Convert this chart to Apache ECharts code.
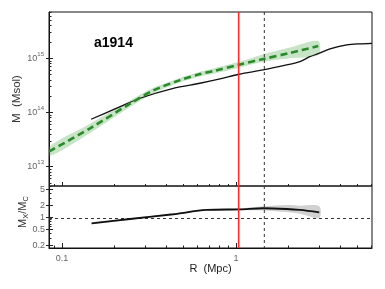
<!DOCTYPE html>
<html><head><meta charset="utf-8">
<script src="https://cdn.jsdelivr.net/npm/echarts@6/dist/echarts.min.js"></script>
<style>html,body{margin:0;padding:0;background:#fff}#c{width:385px;height:289px}</style>
</head><body><div id="c"></div>
<script>
// ---- axis ticks / labels ----
const xMajor = [0.1, 1];
const xMajorLabels = ['0.1', '1'];
const xMinor = [0.09, 0.2, 0.3, 0.4, 0.5, 0.6, 0.7, 0.8, 0.9, 2, 3, 4, 5, 6];
const yTopMajor = [1e13, 1e14, 1e15];
const yTopExp = ['13', '14', '15'];
const yTopMinor = [5e12, 6e12, 7e12, 8e12, 9e12, 2e13, 3e13, 4e13, 5e13, 6e13, 7e13, 8e13, 9e13,
  2e14, 3e14, 4e14, 5e14, 6e14, 7e14, 8e14, 9e14, 2e15, 3e15, 4e15, 5e15, 6e15, 7e15];
const yRatioMajor = [0.2, 0.5, 1, 2, 5];
const yRatioLabels = ['0.2', '0.5', '1', '2', '5'];
const yRatioMinor = [0.3, 0.4, 0.6, 0.7, 0.8, 0.9, 3, 4, 6];

// ---- data: X-ray mass profile (black) ----
const rX = [0.147, 0.20, 0.281, 0.436, 0.621, 0.809, 1.04, 1.435, 1.956, 2.33, 2.66, 3.0, 3.47, 4.33, 5.15, 6.05];
const mX = [7.5e13, 1.15e14, 1.83e14, 2.79e14, 3.46e14, 4.15e14, 5.07e14, 6.08e14, 7.52e14, 8.65e14, 1.07e15, 1.23e15, 1.49e15, 1.76e15, 1.85e15, 1.89e15];
const rXBand = [2.66, 3.0, 3.47, 4.33, 5.15, 6.05];
const mXLow = [1.05e15, 1.20e15, 1.45e15, 1.71e15, 1.80e15, 1.84e15];
const mXHigh = [1.09e15, 1.26e15, 1.53e15, 1.81e15, 1.90e15, 1.94e15];

// ---- data: lensing mass profile (green dashed) ----
const rC = [0.0842, 0.145, 0.246, 0.335, 0.477, 0.621, 0.741, 1.054, 1.435, 2.04, 2.97];
const mC = [1.9e13, 5.1e13, 1.45e14, 2.55e14, 3.95e14, 5.1e14, 5.8e14, 7.7e14, 9.7e14, 1.25e15, 1.68e15];
const mCLow = [1.55e13, 4.2e13, 1.26e14, 2.26e14, 3.6e14, 4.62e14, 5.19e14, 6.76e14, 8.65e14, 1.0e15, 1.15e15];
const mCHigh = [2.33e13, 6.2e13, 1.66e14, 2.85e14, 4.34e14, 5.62e14, 6.46e14, 8.7e14, 1.19e15, 1.58e15, 2.08e15];

// ---- data: ratio ----
const rRatio = [0.148, 0.246, 0.436, 0.679, 1.054, 1.435, 1.957, 2.33, 3.01];
const ratio = [0.724, 0.928, 1.22, 1.56, 1.62, 1.72, 1.65, 1.56, 1.36];
const ratioLow = [0.69, 0.89, 1.17, 1.50, 1.54, 1.52, 1.38, 1.25, 0.98];
const ratioHigh = [0.76, 0.97, 1.27, 1.62, 1.70, 1.92, 2.08, 2.0, 1.93];

// ---- reference lines ----
const rRed = 1.036;
const rDashed = 1.455;
const ratioRef = 1;

const X_MIN = 0.0842, X_MAX = 6.05;
const YT_MIN = 4.4e12, YT_MAX = 7.14e15;
const YR_MIN = 0.1747, YR_MAX = 6.2;

const FONT = 'Liberation Sans';
const RED = '#ff2a2a';
const chart = echarts.init(document.getElementById('c'), null, {renderer: 'canvas'});

function band(xs, lo, hi, color, xi, yi) {
  return {
    type: 'custom', xAxisIndex: xi, yAxisIndex: yi, silent: true, z: 1, clip: true,
    data: xs.map((x, i) => [x, lo[i], hi[i]]),
    encode: {x: 0, y: [1, 2]},
    renderItem(params, api) {
      if (params.dataIndex !== 0) return;
      const pts = [];
      for (let i = 0; i < xs.length; i++) pts.push(api.coord([xs[i], hi[i]]));
      for (let i = xs.length - 1; i >= 0; i--) pts.push(api.coord([xs[i], lo[i]]));
      return {type: 'polygon', shape: {points: pts, smooth: 0.3}, style: {fill: color}};
    }
  };
}

// reference line: vertical (at x value) or horizontal (at y value) spanning the grid
function refLine(xi, yi, xVal, yVal, refY, refX, color, dash, width, z) {
  return {
    type: 'custom', xAxisIndex: xi, yAxisIndex: yi, silent: true, z: z,
    data: [[xVal != null ? xVal : refX, yVal != null ? yVal : refY]],
    encode: {x: 0, y: 1},
    renderItem(params, api) {
      const cs = params.coordSys;
      const p = api.coord([xVal != null ? xVal : refX, yVal != null ? yVal : refY]);
      let shape;
      if (xVal != null) {
        shape = {x1: p[0], y1: cs.y, x2: p[0], y2: cs.y + cs.height};
      } else {
        const y = Math.round(p[1]) + 0.5;
        shape = {x1: cs.x, y1: y, x2: cs.x + cs.width, y2: y};
      }
      const style = {stroke: color, lineWidth: width};
      if (dash) style.lineDash = dash;
      return {type: 'line', shape: shape, style: style};
    }
  };
}

function tickAxis(gi, vals, len, inside, pos, min, max) {
  return {
    type: 'log', gridIndex: gi, min: min, max: max, position: pos,
    axisLine: {show: false}, splitLine: {show: false}, minorTick: {show: false},
    axisLabel: {show: false},
    axisTick: {show: true, inside: inside, length: len, customValues: vals, lineStyle: {color: '#222', width: 1}}
  };
}

const option = {
  animation: false,
  grid: [
    {left: 49, top: 12, width: 323, height: 174, show: true, borderColor: '#111', borderWidth: 1, backgroundColor: 'transparent'},
    {left: 49, top: 186, width: 323, height: 62, show: true, borderColor: '#111', borderWidth: 1, backgroundColor: 'transparent'}
  ],
  xAxis: [
    tickAxis(0, xMajor, 4, true, 'bottom', X_MIN, X_MAX),
    tickAxis(0, xMinor, 2, true, 'bottom', X_MIN, X_MAX),
    {
      type: 'log', gridIndex: 1, min: X_MIN, max: X_MAX, position: 'bottom',
      axisLine: {show: true, lineStyle: {color: '#111'}}, splitLine: {show: false},
      axisTick: {show: true, inside: true, length: 5, customValues: xMajor, lineStyle: {color: '#222'}},
      axisLabel: {show: true, customValues: xMajor, margin: 6, color: '#666', fontSize: 9, fontFamily: FONT,
        formatter: v => { let k = 0; xMajor.forEach((t, i) => { if (Math.abs(Math.log10(t) - Math.log10(v)) < 0.01) k = i; }); return xMajorLabels[k]; }}
    },
    tickAxis(1, xMinor, 2.5, true, 'bottom', X_MIN, X_MAX)
  ],
  yAxis: [
    {
      type: 'log', gridIndex: 0, min: YT_MIN, max: YT_MAX,
      axisLine: {show: true, lineStyle: {color: '#111'}}, splitLine: {show: false},
      axisTick: {show: true, inside: false, length: 3, customValues: yTopMajor, lineStyle: {color: '#222'}},
      axisLabel: {show: true, customValues: yTopMajor, margin: 5, color: '#666', fontFamily: FONT,
        formatter: v => { let k = 0; yTopMajor.forEach((t, i) => { if (Math.abs(Math.log10(t) - Math.log10(v)) < 0.01) k = i; }); return '{b|10}{s|' + yTopExp[k] + '}'; },
        rich: {b: {fontSize: 9, lineHeight: 14, color: '#666', fontFamily: FONT}, s: {fontSize: 6, verticalAlign: 'top', color: '#666', fontFamily: FONT}}}
    },
    tickAxis(0, yTopMajor, 4, true, 'left', YT_MIN, YT_MAX),
    tickAxis(0, yTopMinor, 2.5, true, 'left', YT_MIN, YT_MAX),
    {
      type: 'log', gridIndex: 1, min: YR_MIN, max: YR_MAX,
      axisLine: {show: true, lineStyle: {color: '#111'}}, splitLine: {show: false},
      axisTick: {show: true, inside: false, length: 3, customValues: yRatioMajor, lineStyle: {color: '#222'}},
      axisLabel: {show: true, customValues: yRatioMajor, margin: 4, color: '#666', fontSize: 9, fontFamily: FONT,
        formatter: v => { let k = 0; yRatioMajor.forEach((t, i) => { if (Math.abs(Math.log10(t) - Math.log10(v)) < 0.01) k = i; }); return yRatioLabels[k]; }}
    },
    tickAxis(1, yRatioMajor, 4, true, 'left', YR_MIN, YR_MAX),
    tickAxis(1, yRatioMinor, 2.5, true, 'left', YR_MIN, YR_MAX)
  ],
  series: [
    band(rC, mCLow, mCHigh, 'rgba(70,165,70,0.30)', 0, 0),
    band(rXBand, mXLow, mXHigh, 'rgba(120,120,120,0.25)', 0, 0),
    refLine(0, 0, rDashed, null, 1e14, null, '#333', [3, 3], 1, 2),
    {
      type: 'line', xAxisIndex: 0, yAxisIndex: 0, data: rX.map((r, i) => [r, mX[i]]),
      showSymbol: false, smooth: 0.3, lineStyle: {color: '#111', width: 1.3}, z: 3
    },
    {
      type: 'line', xAxisIndex: 0, yAxisIndex: 0, data: rC.map((r, i) => [r, mC[i]]),
      showSymbol: false, smooth: 0.3, lineStyle: {color: '#2a8a2a', width: 2.6, type: [7, 4]}, z: 4
    },
    refLine(0, 0, rRed, null, 1e14, null, RED, null, 1.6, 5),
    band(rRatio, ratioLow, ratioHigh, 'rgba(140,140,140,0.40)', 2, 3),
    refLine(2, 3, null, ratioRef, null, 1, '#333', [3, 3], 1, 2),
    refLine(2, 3, rDashed, null, 1, null, '#333', [3, 3], 1, 2),
    {
      type: 'line', xAxisIndex: 2, yAxisIndex: 3, data: rRatio.map((r, i) => [r, ratio[i]]),
      showSymbol: false, smooth: 0.3, lineStyle: {color: '#111', width: 1.8}, z: 3
    },
    refLine(2, 3, rRed, null, 1, null, RED, null, 1.6, 5)
  ],
  graphic: [
    {type: 'text', x: 94, y: 43, style: {text: 'a1914', font: 'bold 14px "Liberation Sans"', fill: '#000', align: 'left', verticalAlign: 'middle'}},
    {type: 'text', x: 17, y: 99, rotation: Math.PI / 2,
      style: {text: 'M  (Msol)', font: '11.5px "Liberation Sans"', fill: '#333', align: 'center', verticalAlign: 'middle'}},
    {type: 'text', x: 23, y: 212, rotation: Math.PI / 2,
      style: {text: '{m|M}{s|X}{m|/M}{s|C}', align: 'center', verticalAlign: 'middle',
        rich: {m: {fontSize: 11, fontFamily: FONT, fill: '#333', lineHeight: 14}, s: {fontSize: 7.5, fontFamily: FONT, fill: '#333', verticalAlign: 'bottom'}}}},
    {type: 'text', x: 210.5, y: 269, style: {text: 'R  (Mpc)', font: '11px "Liberation Sans"', fill: '#222', align: 'center', verticalAlign: 'middle'}}
  ]
};
chart.setOption(option);
</script></body></html>
